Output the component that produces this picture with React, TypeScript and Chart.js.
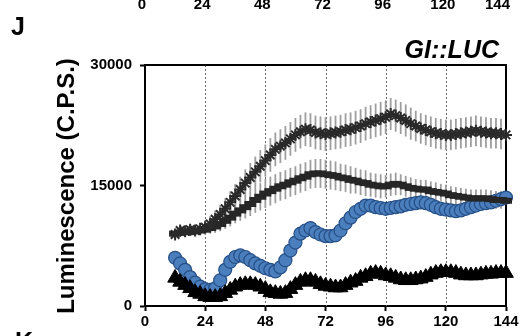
import React, { useEffect, useRef } from "react";
import { Chart, registerables } from "chart.js";
Chart.register(...registerables);

// time points (h)
const hours = [
  12, 14, 16, 18, 20, 22, 24, 26, 28, 30,
  32, 34, 36, 38, 40, 42, 44, 46, 48, 50,
  52, 54, 56, 58, 60, 62, 64, 66, 68, 70,
  72, 74, 76, 78, 80, 82, 84, 86, 88, 90,
  92, 94, 96, 98, 100, 102, 104, 106, 108, 110,
  112, 114, 116, 118, 120, 122, 124, 126, 128, 130,
  132, 134, 136, 138, 140, 142, 144,
];

// series 1: crosses (upper)
const crossVals = [
  8900, 9400, 9300, 9500, 9400, 9600, 9800, 10200, 10800, 11400,
  12100, 12900, 13700, 14500, 15300, 16000, 16700, 17400, 18100, 18800,
  19500, 19900, 20300, 20800, 21300, 21700, 22000, 21900, 21600, 21500,
  21400, 21500, 21600, 21700, 21900, 22000, 22200, 22400, 22700, 22900,
  23100, 23300, 23500, 23900, 23700, 23400, 23100, 22700, 22400, 22100,
  21900, 21700, 21500, 21400, 21300, 21300, 21400, 21500, 21600, 21700,
  21800, 21700, 21600, 21500, 21500, 21400, 21300,
];
const crossErr = [
  500, 600, 600, 700, 700, 800, 900, 1000, 1100, 1200,
  1300, 1400, 1500, 1600, 1700, 1800, 1900, 2000, 2000, 2100,
  2100, 2100, 2100, 2100, 2100, 2100, 2100, 2100, 2100, 2100,
  2100, 2100, 2100, 2100, 2100, 2100, 2100, 2100, 2100, 2100,
  2100, 2100, 2100, 2000, 2000, 2000, 2000, 2000, 1900, 1900,
  1900, 1900, 1900, 1900, 1900, 1900, 1900, 1900, 1900, 1900,
  1900, 1900, 1900, 1900, 1900, 1900, 1900,
];

// series 2: dashes
const dashVals = [
  9000, 9100, 9200, 9200, 9300, 9400, 9500, 9700, 9900, 10200,
  10600, 11000, 11500, 11900, 12300, 12700, 13200, 13600, 14000, 14300,
  14600, 14900, 15100, 15400, 15600, 15900, 16100, 16400, 16500, 16500,
  16400, 16300, 16200, 16000, 15900, 15700, 15600, 15400, 15300, 15100,
  15000, 14900, 14900, 15100, 15200, 15100, 14900, 14700, 14600, 14500,
  14500, 14300, 14200, 14100, 14000, 13800, 13700, 13600, 13500, 13400,
  13400, 13400, 13400, 13300, 13200, 13200, 13100,
];
const dashErr = [
  400, 400, 500, 500, 500, 600, 600, 700, 800, 900,
  1000, 1100, 1200, 1300, 1400, 1500, 1600, 1700, 1800, 1800,
  1800, 1800, 1800, 1800, 1800, 1800, 1800, 1800, 1800, 1800,
  1800, 1800, 1800, 1700, 1700, 1700, 1600, 1600, 1600, 1500,
  1500, 1500, 1400, 1400, 1400, 1300, 1300, 1300, 1200, 1200,
  1200, 1200, 1200, 1100, 1100, 1100, 1100, 1100, 1100, 1100,
  1100, 1100, 1100, 1100, 1100, 1100, 1100,
];

// series 3: blue circles
const blueVals = [
  6000, 5300, 4500, 3600, 2900, 2400, 2100, 2000, 2200, 3200,
  4500, 5500, 6100, 6300, 6100, 5700, 5300, 5000, 4700, 4500,
  4300, 4800, 5700, 6900, 7900, 9000, 9400, 9700, 9200, 8900,
  8700, 8700, 8800, 9400, 10300, 11000, 11700, 12100, 12500, 12500,
  12300, 12200, 12100, 12200, 12300, 12400, 12600, 12700, 12800, 12900,
  12800, 12600, 12300, 12100, 12000, 11900, 11800, 11900, 12100, 12300,
  12500, 12700, 12800, 12900, 13100, 13300, 13500,
];

// series 4: black triangles
const triVals = [
  3500, 3000, 2600, 2200, 1700, 1500, 1200, 1100, 1100, 1200,
  1600, 2000, 2400, 2600, 2700, 2700, 2600, 2400, 2100, 1700,
  1600, 1500, 1600, 2100, 2600, 3000, 3200, 3200, 3000, 2700,
  2500, 2400, 2300, 2300, 2600, 2900, 3100, 3500, 3700, 4000,
  4100, 4000, 3800, 3700, 3500, 3300, 3200, 3200, 3300, 3400,
  3600, 3900, 4100, 4200, 4200, 4200, 4100, 3900, 3800, 3800,
  3800, 3900, 4000, 4000, 4100, 4100, 4100,
];

const xTicks = [0, 24, 48, 72, 96, 120, 144];
const yTicks = [0, 15000, 30000];
const gridHours = [24, 48, 72, 96, 120];
const yTitle = "Luminescence (C.P.S.)";
const panelLabel = "J";
const nextPanelLabel = "K";
const geneLabel = "GI::LUC";

const FONT = "'Liberation Sans', Arial, sans-serif";

const toXY = (vals: number[]) => hours.map((h, i) => ({ x: h, y: vals[i] }));

export default function App() {
  const ref = useRef<HTMLCanvasElement | null>(null);

  useEffect(() => {
    const canvas = ref.current;
    if (!canvas) return;

    const decor = {
      id: "decor",
      beforeDatasetsDraw(chart: any) {
        const { ctx, chartArea: a } = chart;
        const xs = chart.scales.x;
        const ys = chart.scales.y;
        ctx.save();
        // dotted verticals
        ctx.strokeStyle = "#666";
        ctx.lineWidth = 1;
        ctx.setLineDash([2, 2]);
        gridHours.forEach((h) => {
          const px = Math.round(xs.getPixelForValue(h)) + 0.5;
          ctx.beginPath();
          ctx.moveTo(px, a.top);
          ctx.lineTo(px, a.bottom);
          ctx.stroke();
        });
        ctx.setLineDash([]);
        // error bars
        ctx.strokeStyle = "#9e9e9e";
        ctx.lineWidth = 1.8;
        const bars = (vals: number[], errs: number[]) => {
          hours.forEach((h, i) => {
            const px = xs.getPixelForValue(h);
            ctx.beginPath();
            ctx.moveTo(px, ys.getPixelForValue(vals[i] + errs[i]));
            ctx.lineTo(px, ys.getPixelForValue(vals[i] - errs[i]));
            ctx.stroke();
          });
        };
        bars(crossVals, crossErr);
        bars(dashVals, dashErr);
        // box: top and right
        ctx.strokeStyle = "#000";
        ctx.lineWidth = 2;
        ctx.beginPath();
        ctx.moveTo(a.left, a.top);
        ctx.lineTo(a.right, a.top);
        ctx.lineTo(a.right, a.bottom);
        ctx.stroke();
        ctx.restore();
      },
      afterDraw(chart: any) {
        const { ctx } = chart;
        const xs = chart.scales.x;
        ctx.save();
        ctx.fillStyle = "#000";
        // clipped tick labels of the chart above
        ctx.font = `bold 15px ${FONT}`;
        ctx.textAlign = "center";
        ctx.textBaseline = "alphabetic";
        xTicks.forEach((t) => {
          const w = ctx.measureText(String(t)).width;
          let px = xs.getPixelForValue(t) - 3;
          px = Math.min(px, 510 - w / 2);
          ctx.fillText(String(t), px, 9);
        });
        // panel letters
        ctx.textAlign = "left";
        ctx.font = `bold 25px ${FONT}`;
        ctx.fillText(panelLabel, 11, 35);
        ctx.fillText(nextPanelLabel, 15, 350);
        // gene label
        ctx.textAlign = "right";
        ctx.font = `italic bold 25px ${FONT}`;
        ctx.fillText(geneLabel, 499, 58);
        // y title
        ctx.translate(67, 186);
        ctx.rotate(-Math.PI / 2);
        ctx.textAlign = "center";
        ctx.textBaseline = "middle";
        ctx.font = `bold 24px ${FONT}`;
        ctx.fillText(yTitle, 0, 0);
        ctx.restore();
      },
    };

    const chart = new Chart(canvas, {
      type: "line",
      data: {
        datasets: [
          {
            label: "cross",
            data: toXY(crossVals),
            showLine: true,
            borderWidth: 4,
            borderColor: "#2a2a2a",
            tension: 0.3,
            pointStyle: "star",
            pointRadius: 6,
            pointBorderWidth: 2,
            pointBorderColor: "#2a2a2a",
            backgroundColor: "#2a2a2a",
            clip: false,
          },
          {
            label: "dash",
            data: toXY(dashVals),
            showLine: true,
            borderWidth: 4,
            borderColor: "#262626",
            tension: 0.3,
            pointStyle: "line",
            pointRadius: 6,
            pointBorderWidth: 6,
            pointBorderColor: "#262626",
            backgroundColor: "#262626",
            clip: false,
          },
          {
            label: "tri",
            data: toXY(triVals),
            showLine: true,
            borderWidth: 9,
            borderColor: "#000",
            tension: 0.3,
            pointStyle: "triangle",
            pointRadius: 8.5,
            pointBorderWidth: 1,
            pointBorderColor: "#000",
            backgroundColor: "#000",
            clip: false,
          },
          {
            label: "blue",
            data: toXY(blueVals),
            showLine: true,
            borderWidth: 8,
            borderColor: "#3f72b2",
            tension: 0.3,
            pointStyle: "circle",
            pointRadius: 6.5,
            pointBorderWidth: 1.2,
            pointBorderColor: "#264f86",
            backgroundColor: "#4a7ebd",
            clip: false,
          },
        ] as any,
      },
      options: {
        animation: false,
        responsive: false,
        events: [],
        layout: { padding: { left: 0, top: 65, right: 26, bottom: 8 } },
        plugins: { legend: { display: false }, tooltip: { enabled: false } },
        scales: {
          x: {
            type: "linear",
            min: 0,
            max: 144,
            afterBuildTicks: (s: any) => {
              s.ticks = xTicks.map((v) => ({ value: v }));
            },
            afterFit: (s: any) => {
              s.height = 22;
            },
            ticks: {
              autoSkip: false,
              maxRotation: 0,
              padding: 2,
              color: "#000",
              font: { family: FONT, size: 15, weight: "bold" },
              callback: (v: any) => String(v),
            },
            grid: {
              drawOnChartArea: false,
              drawTicks: true,
              tickLength: 5,
              tickColor: "#000",
              tickWidth: 2,
            },
            border: { display: true, color: "#000", width: 2 },
          },
          y: {
            type: "linear",
            min: 0,
            max: 30000,
            afterBuildTicks: (s: any) => {
              s.ticks = yTicks.map((v) => ({ value: v }));
            },
            afterFit: (s: any) => {
              s.width = 145;
            },
            ticks: {
              padding: 8,
              color: "#000",
              font: { family: FONT, size: 15, weight: "bold" },
              callback: (v: any) => String(v),
            },
            grid: {
              drawOnChartArea: false,
              drawTicks: true,
              tickLength: 5,
              tickColor: "#000",
              tickWidth: 2,
            },
            border: { display: true, color: "#000", width: 2 },
          },
        },
      } as any,
      plugins: [decor],
    });

    return () => chart.destroy();
  }, []);

  return (
    <div style={{ position: "absolute", left: 0, top: 0, width: 532, height: 336, background: "#fff" }}>
      <canvas ref={ref} width={532} height={336} style={{ display: "block" }} />
    </div>
  );
}
